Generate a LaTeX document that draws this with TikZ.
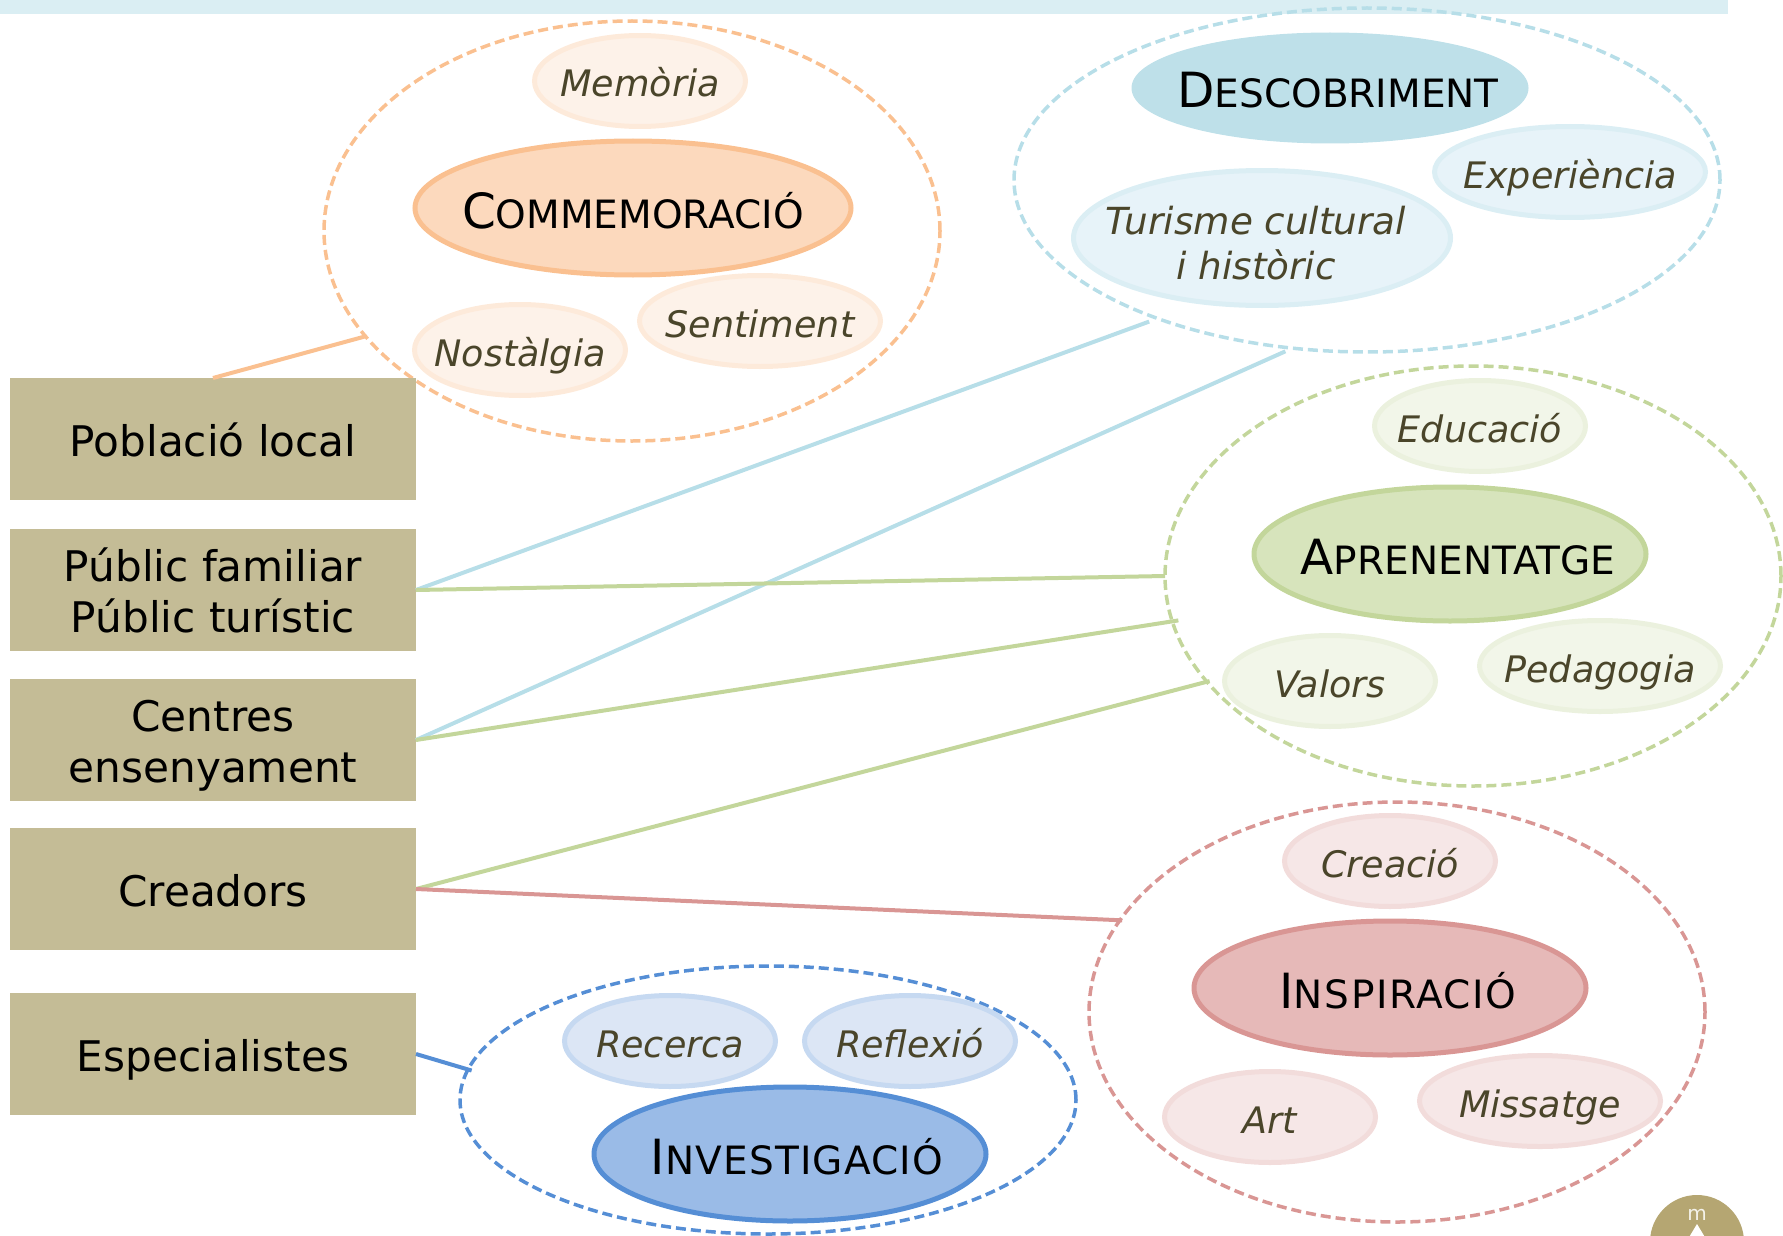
\documentclass[tikz,border=0pt]{standalone}
\usepackage{fontspec}
\setmainfont{DejaVu Sans}
\usepackage{tikz}
\usetikzlibrary{shapes.geometric}

\definecolor{boxtan}{HTML}{C4BC96}
\definecolor{bandblue}{HTML}{DAEEF3}
\definecolor{wordbrown}{HTML}{4A452A}
\definecolor{logotan}{HTML}{B5A672}
\definecolor{orangeline}{HTML}{FAC090}
\definecolor{orangefill}{HTML}{FCD9BD}
\definecolor{orangepale}{HTML}{FDF2E9}
\definecolor{orangerim}{HTML}{FDEADA}
\definecolor{blueline}{HTML}{B7DEE8}
\definecolor{bluefill}{HTML}{BEE0E9}
\definecolor{bluepale}{HTML}{E7F3F9}
\definecolor{bluerim}{HTML}{DBEEF4}
\definecolor{greenline}{HTML}{C3D69B}
\definecolor{greenfill}{HTML}{D7E4BC}
\definecolor{greenpale}{HTML}{F2F6E9}
\definecolor{greenrim}{HTML}{EBF1DE}
\definecolor{redline}{HTML}{D99694}
\definecolor{redfill}{HTML}{E6B9B8}
\definecolor{redpale}{HTML}{F6E7E7}
\definecolor{redrim}{HTML}{F2DCDB}
\definecolor{navyline}{HTML}{558ED5}
\definecolor{navyfill}{HTML}{9ABBE7}
\definecolor{navypale}{HTML}{DCE6F5}
\definecolor{navyrim}{HTML}{C6D9F1}

\newcommand{\capword}[3][0]{\makebox[0pt]{{\fontsize{48.5}{48.5}\selectfont #2}{\fontsize{39}{39}\selectfont\addfontfeatures{LetterSpace=#1}#3}}}
\newcommand{\nowide}[1]{\makebox[0pt]{#1}}

\tikzset{
    audience/.style={fill=boxtan,minimum width=406pt,minimum height=122pt,inner sep=0pt,outer sep=0pt,
        align=center,font=\fontsize{42.2}{51}\selectfont},
    oneline/.style={text height=42pt,text depth=7pt},
    twolines/.style={text height=90pt,text depth=6pt},
    halo/.style={ellipse,draw=#1,line width=3.5pt,dash pattern=on 10pt off 5pt,inner sep=0pt,outer sep=0pt},
    theme/.style n args={2}{ellipse,draw=#1,fill=#2,line width=5pt,minimum width=392pt,minimum height=134pt,
        inner sep=0pt,outer sep=0pt,text height=46pt,text depth=6pt},
    word/.style n args={2}{ellipse,draw=#1,fill=#2,line width=5pt,minimum width=211pt,minimum height=91pt,
        inner sep=0pt,outer sep=0pt,text=wordbrown,text height=38pt,text depth=6pt,
        font=\fontsize{36.5}{44}\selectfont\itshape},
    link/.style={line width=4pt,draw=#1},
}

\begin{document}
\begin{tikzpicture}[x=1pt,y=-1pt]
    \useasboundingbox (0,0) rectangle (1783,1236);
    \fill[bandblue] (0,0) rectangle (1728,14);

    % big dashed rings
    \node[halo=orangeline,minimum width=616pt,minimum height=420pt] (ringcomm) at (632,231) {};
    \node[halo=blueline,minimum width=706pt,minimum height=344pt] (ringdesc) at (1367,180) {};
    \node[halo=greenline,minimum width=616pt,minimum height=420pt] (ringapren) at (1473,576) {};
    \node[halo=redline,minimum width=616pt,minimum height=420pt] (ringinsp) at (1397,1012) {};
    \node[halo=navyline,minimum width=616pt,minimum height=268pt] (ringinv) at (768,1100) {};

    % audiences
    \foreach \name/\y/\lines/\txt in {local/439/oneline/Població local,familiar/590/twolines/{Públic familiar\\Públic turístic},
        centres/740/twolines/{Centres\\ensenyament},creadors/889/oneline/Creadors,especial/1054/oneline/Especialistes}{
        \node[audience,\lines] (\name) at (213,\y) {\txt};
    }

    \draw[link=orangeline] (local.north) -- ([shift={(3,2)}]ringcomm.201.6);
    \draw[link=blueline] (familiar.east) -- ([shift={(-6,4)}]ringdesc.213);
    \draw[link=blueline] (centres.east) -- ([shift={(0,4)}]ringdesc.244.4);
    \draw[link=greenline] (familiar.east) -- (ringapren.180);
    \draw[link=greenline] (centres.east) -- ([shift={(7,2)}]ringapren.188.7);
    \draw[link=greenline] (creadors.east) -- ([shift={(5,2)}]ringapren.201.7);
    \draw[link=redline] (creadors.east) -- ([shift={(0,3)}]ringinsp.161.6);
    \draw[link=navyline] (especial.east) -- ([shift={(3,2)}]ringinv.174.2);

    % themes
    \node[theme={orangeline}{orangefill},minimum width=436pt] (comm) at (633,208) {\capword{C}{OMMEMORACIÓ}};
    \node[theme={bluefill}{bluefill},minimum height=106pt] (desc) at (1330,88) {\hspace{16pt}\capword{D}{ESCOBRIMENT}};
    \node[theme={greenline}{greenfill}] (apren) at (1450,554) {\hspace{16pt}\capword{A}{PRENENTATGE}};
    \node[theme={redline}{redfill}] (insp) at (1390,988) {\hspace{16pt}\capword[4]{I}{NSPIRACIÓ}};
    \node[theme={navyline}{navyfill}] (inv) at (790,1154) {\hspace{14pt}\capword[3]{I}{NVESTIGACIÓ}};

    % words
    \node[word={orangerim}{orangepale}] (memoria) at (640,81) {\nowide{Memòria}};
    \node[word={orangerim}{orangepale}] (nostalgia) at (520,350) {\nowide{Nostàlgia}};
    \node[word={orangerim}{orangepale},minimum width=241pt] (sentiment) at (760,321) {\nowide{Sentiment}};
    \node[word={bluerim}{bluepale},minimum width=271pt] (experiencia) at (1570,172) {\nowide{Experiència}};
    \node[word={bluerim}{bluepale},minimum width=377pt,minimum height=135pt,text height=32pt,text depth=0pt,
        font=\fontsize{37.3}{44}\selectfont\itshape] (turisme) at (1262,238)
        {\hspace{-12pt}\nowide{\begin{tabular}{@{}c@{}}Turisme cultural\\[1pt]i històric\end{tabular}}};
    \node[word={greenrim}{greenpale}] (educacio) at (1480,426) {\nowide{Educació}};
    \node[word={greenrim}{greenpale}] (valors) at (1330,681) {\nowide{Valors}};
    \node[word={greenrim}{greenpale},minimum width=241pt] (pedagogia) at (1600,666) {\nowide{Pedagogia}};
    \node[word={redrim}{redpale}] (creacio) at (1390,861) {\nowide{Creació}};
    \node[word={redrim}{redpale}] (art) at (1270,1117) {\nowide{Art}};
    \node[word={redrim}{redpale},minimum width=241pt] (missatge) at (1540,1101) {\nowide{Missatge}};
    \node[word={navyrim}{navypale}] (recerca) at (670,1041) {\nowide{Recerca}};
    \node[word={navyrim}{navypale}] (reflexio) at (910,1041) {\nowide{Reflexió}};

    % logo, cut by the page edge
    \begin{scope}
        \clip (1600,1150) rectangle (1783,1236);
        \fill[logotan] (1697,1242) circle [radius=47];
        \fill[white] (1697,1224) -- (1685,1244) -- (1709,1244) -- cycle;
    \end{scope}
    \node[text=white!85!logotan,font=\fontsize{20}{20}\selectfont] (logom) at (1697,1215) {m};
\end{tikzpicture}
\end{document}
